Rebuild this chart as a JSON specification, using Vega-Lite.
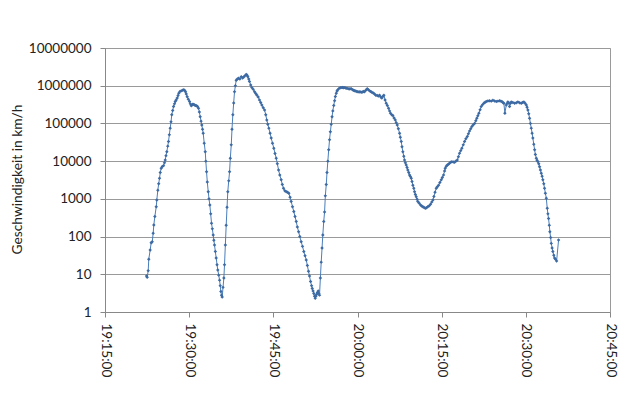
{
  "$schema": "https://vega.github.io/schema/vega-lite/v6.json",
  "width": 505,
  "height": 264,
  "autosize": {"type": "none"},
  "padding": {"left": 105, "top": 48, "right": 19, "bottom": 95},
  "background": "white",
  "view": {"stroke": "#9a9a9a", "strokeWidth": 1},
  "data": {
    "format": {"parse": {"t": "date:'%H:%M:%S'"}},
    "values": [
      {"t":"19:22:24","v":9},{"t":"19:22:31","v":8.3},{"t":"19:22:42","v":12.5},{"t":"19:22:48","v":25},{"t":"19:23:03","v":44},{"t":"19:23:14","v":69},{"t":"19:23:25","v":73},{"t":"19:23:35","v":122},{"t":"19:23:42","v":203},{"t":"19:23:53","v":340},{"t":"19:24:08","v":620},{"t":"19:24:14","v":930},{"t":"19:24:25","v":1700},{"t":"19:24:34","v":2500},{"t":"19:24:43","v":3500},{"t":"19:24:51","v":5000},{"t":"19:25:01","v":6500},{"t":"19:25:13","v":7200},{"t":"19:25:26","v":7600},{"t":"19:25:36","v":9000},{"t":"19:25:44","v":10700},{"t":"19:25:52","v":14000},{"t":"19:26:01","v":17800},{"t":"19:26:11","v":25000},{"t":"19:26:19","v":33000},{"t":"19:26:28","v":50000},{"t":"19:26:37","v":75000},{"t":"19:26:46","v":110000},{"t":"19:26:54","v":170000},{"t":"19:27:04","v":220000},{"t":"19:27:13","v":280000},{"t":"19:27:23","v":330000},{"t":"19:27:31","v":380000},{"t":"19:27:41","v":420000},{"t":"19:27:52","v":470000},{"t":"19:28:01","v":550000},{"t":"19:28:09","v":630000},{"t":"19:28:22","v":700000},{"t":"19:28:35","v":730000},{"t":"19:28:49","v":760000},{"t":"19:29:03","v":780000},{"t":"19:29:12","v":750000},{"t":"19:29:21","v":690000},{"t":"19:29:29","v":600000},{"t":"19:29:39","v":510000},{"t":"19:29:51","v":440000},{"t":"19:30:04","v":380000},{"t":"19:30:12","v":330000},{"t":"19:30:22","v":296000},{"t":"19:30:30","v":310000},{"t":"19:30:39","v":323000},{"t":"19:30:49","v":320000},{"t":"19:30:57","v":310000},{"t":"19:31:08","v":300000},{"t":"19:31:19","v":296000},{"t":"19:31:29","v":280000},{"t":"19:31:40","v":253000},{"t":"19:31:49","v":200000},{"t":"19:31:58","v":151000},{"t":"19:32:07","v":115000},{"t":"19:32:15","v":91000},{"t":"19:32:23","v":70000},{"t":"19:32:30","v":55000},{"t":"19:32:41","v":30000},{"t":"19:32:52","v":17800},{"t":"19:32:58","v":10000},{"t":"19:33:06","v":5200},{"t":"19:33:14","v":2800},{"t":"19:33:24","v":1550},{"t":"19:33:32","v":1000},{"t":"19:33:41","v":690},{"t":"19:33:50","v":400},{"t":"19:33:59","v":225},{"t":"19:34:08","v":160},{"t":"19:34:17","v":110},{"t":"19:34:24","v":80},{"t":"19:34:31","v":60},{"t":"19:34:40","v":40},{"t":"19:34:49","v":27},{"t":"19:34:58","v":18},{"t":"19:35:06","v":13},{"t":"19:35:16","v":9.5},{"t":"19:35:25","v":7},{"t":"19:35:32","v":5},{"t":"19:35:39","v":3.5},{"t":"19:35:46","v":2.8},{"t":"19:35:53","v":2.5},
      {"t":"19:36:02","v":4.5},{"t":"19:36:11","v":8},{"t":"19:36:18","v":18},{"t":"19:36:27","v":60},{"t":"19:36:36","v":200},{"t":"19:36:45","v":600},{"t":"19:36:53","v":1550},{"t":"19:37:03","v":3000},{"t":"19:37:12","v":5200},{"t":"19:37:20","v":12000},{"t":"19:37:30","v":27000},{"t":"19:37:38","v":70000},{"t":"19:37:47","v":170000},{"t":"19:37:56","v":350000},{"t":"19:38:05","v":690000},{"t":"19:38:14","v":1000000},{"t":"19:38:23","v":1400000},{"t":"19:38:35","v":1500000},{"t":"19:38:48","v":1580000},{"t":"19:39:02","v":1500000},{"t":"19:39:17","v":1740000},{"t":"19:39:31","v":1600000},{"t":"19:39:44","v":1700000},{"t":"19:39:57","v":1850000},{"t":"19:40:10","v":2000000},{"t":"19:40:19","v":1900000},{"t":"19:40:27","v":1740000},{"t":"19:40:37","v":1500000},{"t":"19:40:45","v":1290000},{"t":"19:40:58","v":1050000},{"t":"19:41:10","v":890000},{"t":"19:41:25","v":800000},{"t":"19:41:39","v":690000},{"t":"19:41:52","v":620000},{"t":"19:42:03","v":570000},{"t":"19:42:18","v":500000},{"t":"19:42:32","v":420000},{"t":"19:42:45","v":360000},{"t":"19:42:57","v":310000},{"t":"19:43:12","v":260000},{"t":"19:43:26","v":228000},{"t":"19:43:39","v":170000},{"t":"19:43:50","v":124000},{"t":"19:44:01","v":95000},{"t":"19:44:12","v":75000},{"t":"19:44:25","v":55000},{"t":"19:44:37","v":41000},{"t":"19:44:51","v":30000},{"t":"19:45:05","v":22000},{"t":"19:45:18","v":16000},{"t":"19:45:31","v":12000},{"t":"19:45:43","v":8500},{"t":"19:45:56","v":5800},{"t":"19:46:09","v":4300},{"t":"19:46:24","v":3200},{"t":"19:46:36","v":2400},{"t":"19:46:49","v":1900},{"t":"19:47:03","v":1650},{"t":"19:47:18","v":1550},{"t":"19:47:32","v":1500},{"t":"19:47:46","v":1400},{"t":"19:47:59","v":1100},{"t":"19:48:11","v":850},{"t":"19:48:25","v":620},{"t":"19:48:39","v":460},{"t":"19:48:52","v":340},{"t":"19:49:05","v":250},{"t":"19:49:17","v":180},{"t":"19:49:30","v":135},{"t":"19:49:43","v":100},{"t":"19:49:58","v":73},{"t":"19:50:12","v":55},{"t":"19:50:26","v":40},{"t":"19:50:39","v":31},{"t":"19:50:52","v":24},{"t":"19:51:04","v":17},{"t":"19:51:16","v":12},{"t":"19:51:27","v":9},{"t":"19:51:38","v":6.4},{"t":"19:51:49","v":5},{"t":"19:51:56","v":4.2},{"t":"19:52:05","v":3.6},{"t":"19:52:13","v":3.1},{"t":"19:52:21","v":2.6},{"t":"19:52:28","v":2.3},{"t":"19:52:35","v":2.6},{"t":"19:52:42","v":2.9},{"t":"19:52:51","v":3.3},{"t":"19:53:00","v":3.6},{"t":"19:53:07","v":3.1},{"t":"19:53:14","v":2.8},
      {"t":"19:53:23","v":8},{"t":"19:53:32","v":21},{"t":"19:53:41","v":50},{"t":"19:53:49","v":110},{"t":"19:53:59","v":250},{"t":"19:54:08","v":450},{"t":"19:54:16","v":1200},{"t":"19:54:26","v":2400},{"t":"19:54:34","v":5000},{"t":"19:54:43","v":10000},{"t":"19:54:52","v":20000},{"t":"19:55:01","v":37000},{"t":"19:55:10","v":60000},{"t":"19:55:19","v":95000},{"t":"19:55:28","v":150000},{"t":"19:55:36","v":215000},{"t":"19:55:46","v":300000},{"t":"19:55:55","v":400000},{"t":"19:56:03","v":520000},{"t":"19:56:13","v":630000},{"t":"19:56:21","v":720000},{"t":"19:56:30","v":780000},{"t":"19:56:43","v":850000},{"t":"19:56:56","v":880000},{"t":"19:57:06","v":890000},{"t":"19:57:20","v":900000},{"t":"19:57:31","v":880000},{"t":"19:57:42","v":890000},{"t":"19:57:54","v":870000},{"t":"19:58:06","v":850000},{"t":"19:58:17","v":850000},{"t":"19:58:30","v":820000},{"t":"19:58:40","v":830000},{"t":"19:58:53","v":830000},{"t":"19:59:07","v":780000},{"t":"19:59:18","v":760000},{"t":"19:59:28","v":740000},{"t":"19:59:41","v":720000},{"t":"19:59:53","v":700000},{"t":"20:00:04","v":690000},{"t":"20:00:17","v":680000},{"t":"20:00:27","v":690000},{"t":"20:00:40","v":675000},{"t":"20:00:54","v":680000},{"t":"20:01:05","v":700000},{"t":"20:01:15","v":690000},{"t":"20:01:29","v":760000},{"t":"20:01:44","v":830000},{"t":"20:01:56","v":780000},{"t":"20:02:09","v":730000},{"t":"20:02:22","v":700000},{"t":"20:02:33","v":675000},{"t":"20:02:48","v":640000},{"t":"20:03:02","v":600000},{"t":"20:03:16","v":560000},{"t":"20:03:31","v":550000},{"t":"20:03:43","v":530000},{"t":"20:03:56","v":560000},{"t":"20:04:09","v":500000},{"t":"20:04:20","v":470000},{"t":"20:04:31","v":520000},{"t":"20:04:42","v":560000},{"t":"20:04:55","v":420000},{"t":"20:05:07","v":345000},{"t":"20:05:19","v":300000},{"t":"20:05:32","v":253000},{"t":"20:05:43","v":215000},{"t":"20:05:53","v":187000},{"t":"20:06:06","v":170000},{"t":"20:06:18","v":162000},{"t":"20:06:31","v":140000},{"t":"20:06:44","v":124000},{"t":"20:06:54","v":105000},{"t":"20:07:05","v":91000},{"t":"20:07:17","v":72000},{"t":"20:07:30","v":55000},{"t":"20:07:38","v":43000},{"t":"20:07:48","v":33000},{"t":"20:07:56","v":24000},{"t":"20:08:05","v":17800},{"t":"20:08:15","v":13500},{"t":"20:08:23","v":10700},{"t":"20:08:32","v":9000},{"t":"20:08:41","v":7900},{"t":"20:08:50","v":6800},{"t":"20:08:58","v":5800},{"t":"20:09:08","v":5000},{"t":"20:09:17","v":4300},{"t":"20:09:25","v":3900},{"t":"20:09:35","v":3500},{"t":"20:09:43","v":2900},{"t":"20:09:52","v":2300},{"t":"20:10:02","v":1900},{"t":"20:10:10","v":1550},{"t":"20:10:19","v":1300},{"t":"20:10:28","v":1140},{"t":"20:10:37","v":980},{"t":"20:10:45","v":850},{"t":"20:11:00","v":760},{"t":"20:11:14","v":690},{"t":"20:11:27","v":650},{"t":"20:11:39","v":620},{"t":"20:11:52","v":590},{"t":"20:12:05","v":560},{"t":"20:12:18","v":580},{"t":"20:12:32","v":620},{"t":"20:12:47","v":660},{"t":"20:13:01","v":720},{"t":"20:13:14","v":820},{"t":"20:13:26","v":930},{"t":"20:13:37","v":1150},{"t":"20:13:49","v":1500},{"t":"20:14:02","v":1900},{"t":"20:14:14","v":2100},{"t":"20:14:27","v":2300},{"t":"20:14:41","v":2700},{"t":"20:14:56","v":3200},{"t":"20:15:07","v":3700},{"t":"20:15:20","v":4300},{"t":"20:15:31","v":5500},{"t":"20:15:38","v":6500},{"t":"20:15:49","v":7300},{"t":"20:16:00","v":7900},{"t":"20:16:12","v":8300},{"t":"20:16:24","v":8800},{"t":"20:16:37","v":9300},{"t":"20:16:49","v":9700},{"t":"20:17:04","v":9500},{"t":"20:17:18","v":9400},{"t":"20:17:32","v":10000},{"t":"20:17:47","v":10700},{"t":"20:17:59","v":13000},{"t":"20:18:11","v":16200},{"t":"20:18:24","v":19000},{"t":"20:18:36","v":22000},{"t":"20:18:51","v":27000},{"t":"20:19:05","v":33000},{"t":"20:19:19","v":39000},{"t":"20:19:34","v":45000},{"t":"20:19:46","v":53000},{"t":"20:19:58","v":63000},{"t":"20:20:11","v":72000},{"t":"20:20:23","v":83000},{"t":"20:20:38","v":92000},{"t":"20:20:52","v":100000},{"t":"20:21:05","v":118000},{"t":"20:21:16","v":138000},{"t":"20:21:27","v":160000},{"t":"20:21:38","v":187000},{"t":"20:21:51","v":230000},{"t":"20:22:03","v":280000},{"t":"20:22:17","v":315000},{"t":"20:22:31","v":345000},{"t":"20:22:44","v":365000},{"t":"20:22:57","v":380000},{"t":"20:23:14","v":395000},{"t":"20:23:32","v":400000},{"t":"20:23:50","v":390000},{"t":"20:24:08","v":410000},{"t":"20:24:26","v":395000},{"t":"20:24:44","v":380000},{"t":"20:25:01","v":390000},{"t":"20:25:19","v":400000},{"t":"20:25:32","v":390000},{"t":"20:25:44","v":380000},{"t":"20:25:55","v":360000},{"t":"20:26:05","v":345000},{"t":"20:26:16","v":187000},{"t":"20:26:31","v":310000},{"t":"20:26:39","v":340000},{"t":"20:26:48","v":370000},{"t":"20:26:58","v":350000},{"t":"20:27:06","v":280000},{"t":"20:27:15","v":340000},{"t":"20:27:24","v":370000},{"t":"20:27:41","v":360000},{"t":"20:28:00","v":345000},{"t":"20:28:18","v":355000},{"t":"20:28:35","v":370000},{"t":"20:28:53","v":355000},{"t":"20:29:11","v":345000},{"t":"20:29:25","v":360000},{"t":"20:29:39","v":370000},{"t":"20:29:52","v":345000},{"t":"20:30:05","v":310000},{"t":"20:30:13","v":270000},{"t":"20:30:22","v":228000},{"t":"20:30:31","v":180000},{"t":"20:30:40","v":138000},{"t":"20:30:49","v":100000},{"t":"20:30:58","v":75000},{"t":"20:31:07","v":55000},{"t":"20:31:15","v":41000},{"t":"20:31:25","v":28000},{"t":"20:31:34","v":20000},{"t":"20:31:42","v":15000},{"t":"20:31:52","v":12000},{"t":"20:32:00","v":10500},{"t":"20:32:09","v":9700},{"t":"20:32:18","v":8500},{"t":"20:32:27","v":7100},{"t":"20:32:36","v":5800},{"t":"20:32:45","v":4800},{"t":"20:32:54","v":4000},{"t":"20:33:02","v":3200},{"t":"20:33:12","v":2500},{"t":"20:33:20","v":1900},{"t":"20:33:29","v":1400},{"t":"20:33:39","v":1040},{"t":"20:33:49","v":560},{"t":"20:33:56","v":400},{"t":"20:34:03","v":300},{"t":"20:34:11","v":200},{"t":"20:34:17","v":135},{"t":"20:34:25","v":95},{"t":"20:34:32","v":66},{"t":"20:34:41","v":50},{"t":"20:34:49","v":40},{"t":"20:34:59","v":32},{"t":"20:35:07","v":27},{"t":"20:35:18","v":25},{"t":"20:35:29","v":22.5},{"t":"20:35:50","v":81}
    ]
  },
  "mark": {
    "type": "line",
    "color": "#4a7ebb",
    "strokeWidth": 1,
    "clip": true,
    "point": {"shape": "diamond", "size": 12, "filled": true, "color": "#3d6aa3", "opacity": 1}
  },
  "encoding": {
    "x": {
      "field": "t",
      "type": "temporal",
      "scale": {
        "domain": [
          {"year": 1900, "month": 1, "date": 1, "hours": 19, "minutes": 15},
          {"year": 1900, "month": 1, "date": 1, "hours": 20, "minutes": 45}
        ]
      },
      "axis": {
        "title": null,
        "values": [
          {"year": 1900, "month": 1, "date": 1, "hours": 19, "minutes": 15},
          {"year": 1900, "month": 1, "date": 1, "hours": 19, "minutes": 30},
          {"year": 1900, "month": 1, "date": 1, "hours": 19, "minutes": 45},
          {"year": 1900, "month": 1, "date": 1, "hours": 20, "minutes": 0},
          {"year": 1900, "month": 1, "date": 1, "hours": 20, "minutes": 15},
          {"year": 1900, "month": 1, "date": 1, "hours": 20, "minutes": 30},
          {"year": 1900, "month": 1, "date": 1, "hours": 20, "minutes": 45}
        ],
        "format": "%H:%M:%S",
        "labelAngle": 90,
        "labelAlign": "left",
        "labelBaseline": "middle",
        "labelFont": "Lato",
        "labelFontSize": 13.5,
        "labelColor": "#222222",
        "labelPadding": 6,
        "labelOverlap": false,
        "labelFlush": false,
        "grid": false,
        "tickSize": 5,
        "tickColor": "#888888",
        "domainColor": "#888888"
      }
    },
    "y": {
      "field": "v",
      "type": "quantitative",
      "scale": {"type": "log", "domain": [1, 10000000]},
      "axis": {
        "title": "Geschwindigkeit in km/h",
        "values": [1, 10, 100, 1000, 10000, 100000, 1000000, 10000000],
        "format": "d",
        "labelFont": "Lato",
        "labelFontSize": 13.5,
        "labelColor": "#222222",
        "labelPadding": 9,
        "labelFlush": false,
        "labelOverlap": false,
        "tickSize": 5,
        "tickColor": "#888888",
        "domainColor": "#888888",
        "grid": true,
        "gridColor": "#9a9a9a",
        "gridWidth": 1,
        "titleFont": "Lato",
        "titleFontSize": 13.8,
        "titleFontWeight": "normal",
        "titleColor": "#222222",
        "titleAngle": -90,
        "titleX": -88,
        "titleY": 131,
        "titleAlign": "center",
        "titleBaseline": "middle"
      }
    }
  }
}
